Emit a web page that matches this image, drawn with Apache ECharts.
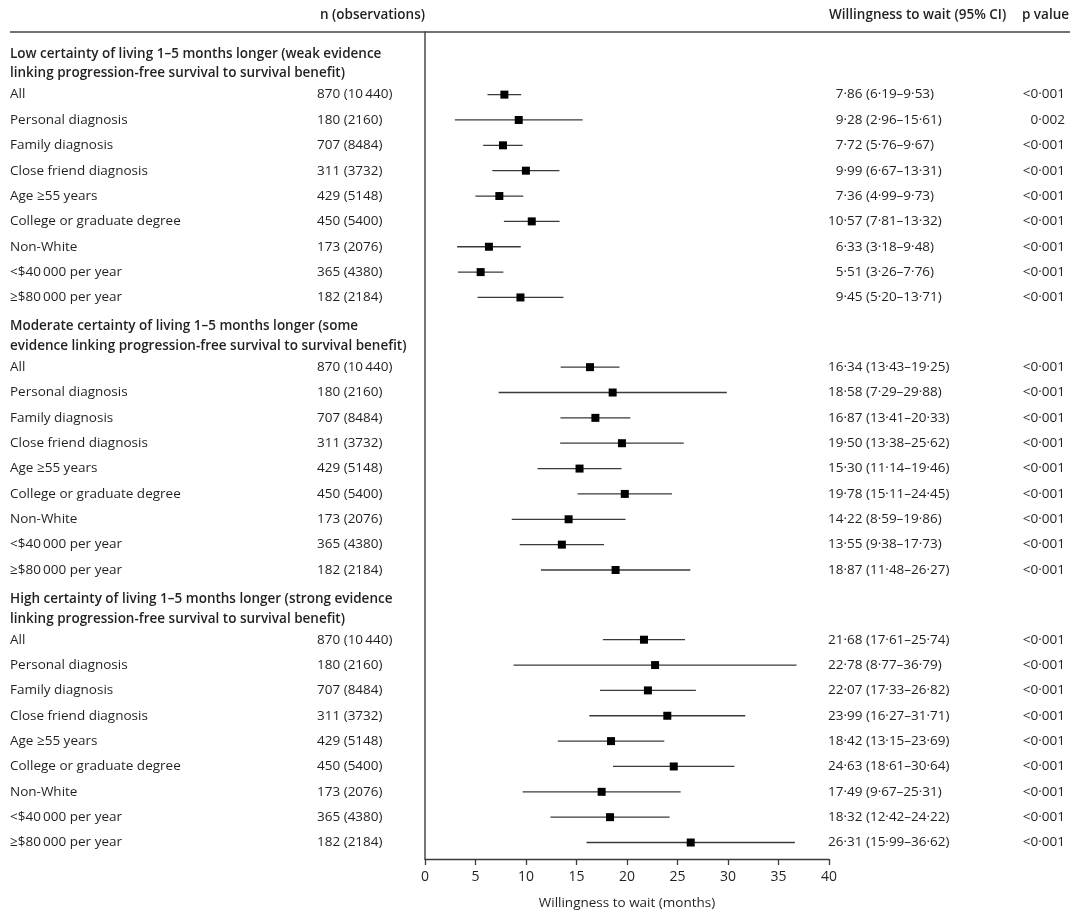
<!DOCTYPE html>
<html>
<head>
<meta charset="utf-8">
<script src="https://cdn.jsdelivr.net/npm/echarts@6/dist/echarts.min.js"></script>
<style>
  html, body { margin: 0; padding: 0; background: #fff; }
  #main { width: 1080px; height: 915px; }
</style>
</head>
<body>
<div id="main"></div>
<script>
// Group titles (two lines each)
const groupTitles = [
	['Low certainty of living 1\u20135 months longer (weak evidence', 'linking progression-free survival to survival benefit)'],
	['Moderate certainty of living 1\u20135 months longer (some', 'evidence linking progression-free survival to survival benefit)'],
	['High certainty of living 1\u20135 months longer (strong evidence', 'linking progression-free survival to survival benefit)']
];
const subgroups = ['All', 'Personal diagnosis', 'Family diagnosis', 'Close friend diagnosis', 'Age \u226555 years',
	'College or graduate degree', 'Non-White', '<$40\u2009000 per year', '\u2265$80\u2009000 per year'];
const nObs = ['870 (10\u2009440)', '180 (2160)', '707 (8484)', '311 (3732)', '429 (5148)',
	'450 (5400)', '173 (2076)', '365 (4380)', '182 (2184)'];

// Willingness to wait (months), one array per group
const estimates = [
	[7.86, 9.28, 7.72, 9.99, 7.36, 10.57, 6.33, 5.51, 9.45],
	[16.34, 18.58, 16.87, 19.50, 15.30, 19.78, 14.22, 13.55, 18.87],
	[21.68, 22.78, 22.07, 23.99, 18.42, 24.63, 17.49, 18.32, 26.31]
];
const lowerCI = [
	[6.19, 2.96, 5.76, 6.67, 4.99, 7.81, 3.18, 3.26, 5.20],
	[13.43, 7.29, 13.41, 13.38, 11.14, 15.11, 8.59, 9.38, 11.48],
	[17.61, 8.77, 17.33, 16.27, 13.15, 18.61, 9.67, 12.42, 15.99]
];
const upperCI = [
	[9.53, 15.61, 9.67, 13.31, 9.73, 13.32, 9.48, 7.76, 13.71],
	[19.25, 29.88, 20.33, 25.62, 19.46, 24.45, 19.86, 17.73, 26.27],
	[25.74, 36.79, 26.82, 31.71, 23.69, 30.64, 25.31, 24.22, 36.62]
];
const pValues = [
	['<0\u00b7001', '0\u00b7002', '<0\u00b7001', '<0\u00b7001', '<0\u00b7001', '<0\u00b7001', '<0\u00b7001', '<0\u00b7001', '<0\u00b7001'],
	['<0\u00b7001', '<0\u00b7001', '<0\u00b7001', '<0\u00b7001', '<0\u00b7001', '<0\u00b7001', '<0\u00b7001', '<0\u00b7001', '<0\u00b7001'],
	['<0\u00b7001', '<0\u00b7001', '<0\u00b7001', '<0\u00b7001', '<0\u00b7001', '<0\u00b7001', '<0\u00b7001', '<0\u00b7001', '<0\u00b7001']
];

const FONT = '"Open Sans", "Noto Sans", sans-serif';
const TEXT = '#231f20';
const groupStep = 10.75; // rows per group incl. two-line title

// decimal with middle dot, as in the journal
function dot(v) {
	return v.toFixed(2).replace('.', '\u00b7');
}

const rows = [];
estimates.forEach(function (grp, g) {
	grp.forEach(function (est, i) {
		rows.push([est, lowerCI[g][i], upperCI[g][i], g * groupStep + i, g, i]);
	});
});
const titleRows = groupTitles.map(function (t, g) {
	return [0, g * groupStep, g];
});

const myChart = echarts.init(document.getElementById('main'));

option = {
	animation: false,
	textStyle: { fontFamily: FONT },
	grid: { left: 425, right: 251, top: 32, bottom: 55 },
	xAxis: {
		type: 'value',
		min: 0,
		max: 40,
		interval: 5,
		name: 'Willingness to wait (months)',
		nameLocation: 'middle',
		nameGap: 37,
		nameTextStyle: { fontSize: 13.5, color: TEXT, fontFamily: FONT },
		axisLine: { show: true, onZero: false, lineStyle: { color: '#3a3a3a', width: 1.3 } },
		axisTick: { show: true, length: 6, lineStyle: { color: '#3a3a3a', width: 1.3 } },
		axisLabel: { fontSize: 14, color: TEXT, margin: 11, fontFamily: FONT },
		splitLine: { show: false }
	},
	yAxis: {
		type: 'value',
		inverse: true,
		min: -2.47,
		max: 30.15,
		axisLine: { show: true, onZero: false, lineStyle: { color: '#4a4a4a', width: 1.5 } },
		axisTick: { show: false },
		axisLabel: { show: false },
		splitLine: { show: false }
	},
	graphic: [
		{ type: 'line', shape: { x1: 10, y1: 32, x2: 1070, y2: 32 }, style: { stroke: '#444', lineWidth: 1.5 } },
		{ type: 'text', x: 425, y: 15, style: { text: 'n (observations)', font: '600 13.5px ' + FONT, fill: TEXT, align: 'right', verticalAlign: 'middle' } },
		{ type: 'text', x: 829, y: 15, style: { text: 'Willingness to wait (95% CI)', font: '600 13.5px ' + FONT, fill: TEXT, verticalAlign: 'middle' } },
		{ type: 'text', x: 1069, y: 15, style: { text: 'p value', font: '600 13.5px ' + FONT, fill: TEXT, align: 'right', verticalAlign: 'middle' } }
	],
	series: [
		{
			// CI whiskers and point squares
			type: 'custom',
			data: rows,
			encode: { x: [0, 1, 2], y: 3 },
			renderItem: function (params, api) {
				const y = api.value(3);
				const lo = api.coord([api.value(1), y]);
				const hi = api.coord([api.value(2), y]);
				const mid = api.coord([api.value(0), y]);
				return {
					type: 'group',
					children: [
						{ type: 'line', shape: { x1: lo[0], y1: lo[1], x2: hi[0], y2: hi[1] }, style: { stroke: '#3a3a3a', lineWidth: 1.3 } },
						{ type: 'rect', shape: { x: mid[0] - 4, y: mid[1] - 4, width: 8, height: 8 }, style: { fill: '#000' } }
					]
				};
			}
		},
		{
			// row texts: subgroup, n, estimate (CI), p value
			type: 'custom',
			data: rows,
			encode: { x: 0, y: 3 },
			renderItem: function (params, api) {
				const g = api.value(4);
				const i = api.value(5);
				const yPx = api.coord([0, api.value(3)])[1];
				const est = estimates[g][i];
				const ci = (est < 10 ? '\u2007' : '') + dot(est) + ' (' + dot(lowerCI[g][i]) + '\u2013' + dot(upperCI[g][i]) + ')';
				const base = { font: '13.5px ' + FONT, fill: TEXT, verticalAlign: 'middle', align: 'left' };
				return {
					type: 'group',
					children: [
						{ type: 'text', x: 10, y: yPx, style: Object.assign({}, base, { text: subgroups[i] }) },
						{ type: 'text', x: 317, y: yPx, style: Object.assign({}, base, { text: nObs[i] }) },
						{ type: 'text', x: 828, y: yPx, style: Object.assign({}, base, { text: ci }) },
						{ type: 'text', x: 1065, y: yPx, style: Object.assign({}, base, { text: pValues[g][i], align: 'right' }) }
					]
				};
			}
		},
		{
			// group titles
			type: 'custom',
			data: titleRows,
			encode: { x: 0, y: 1 },
			renderItem: function (params, api) {
				const g = api.value(2);
				const base = api.value(1);
				const y1 = api.coord([0, base - 1.61])[1];
				const y2 = api.coord([0, base - 0.83])[1];
				const st = { font: '600 13.5px ' + FONT, fill: TEXT, verticalAlign: 'middle', align: 'left' };
				return {
					type: 'group',
					children: [
						{ type: 'text', x: 10, y: y1, style: Object.assign({}, st, { text: groupTitles[g][0] }) },
						{ type: 'text', x: 10, y: y2, style: Object.assign({}, st, { text: groupTitles[g][1] }) }
					]
				};
			}
		}
	]
};
myChart.setOption(option);
window.onresize = myChart.resize;
</script>
</body>
</html>
